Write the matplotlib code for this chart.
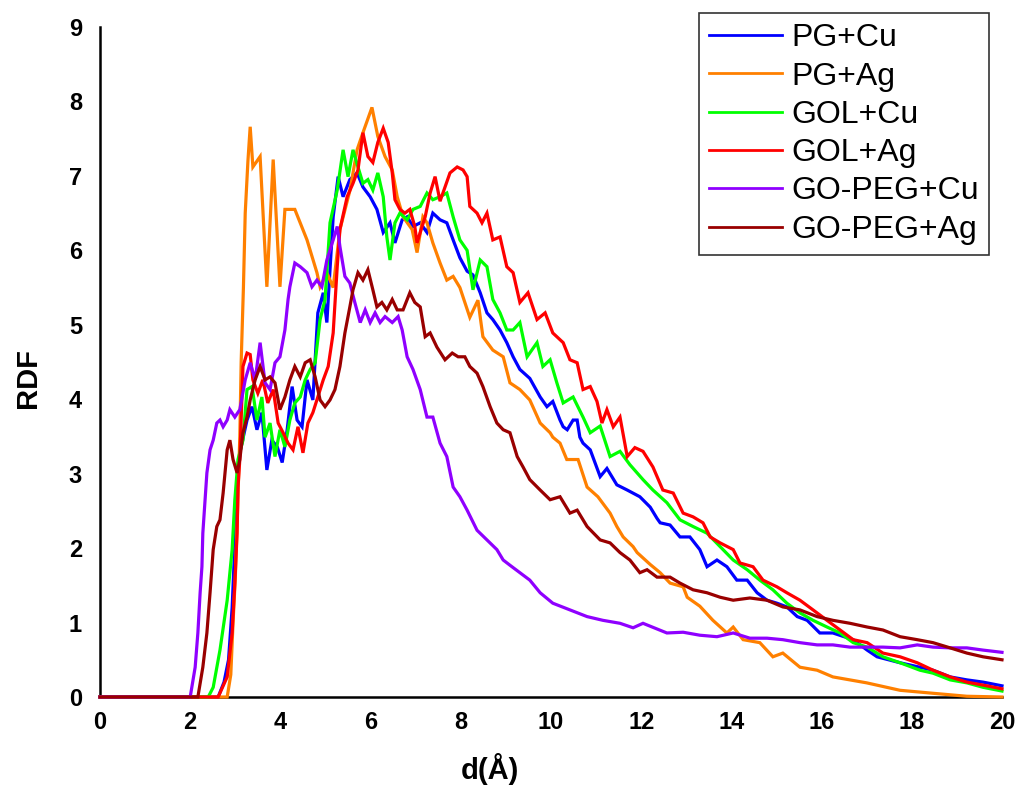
import matplotlib
matplotlib.use("Agg")
import matplotlib.pyplot as plt

plt.rcParams['font.family'] = ['Liberation Sans', 'DejaVu Sans']

labels = ["PG+Cu", "PG+Ag", "GOL+Cu", "GOL+Ag", "GO-PEG+Cu", "GO-PEG+Ag"]
colors = ["#0000FF", "#FF8000", "#00FF00", "#FF0000", "#8F00FF", "#990000"]

pg_cu_x = [0, 2.62, 2.75, 2.85, 2.93, 3.00, 3.06, 3.10, 3.26, 3.37, 3.48, 3.59, 3.70, 3.81, 3.93, 4.04,
           4.15, 4.26, 4.37, 4.48, 4.59, 4.72, 4.83, 4.95, 5.03, 5.17, 5.28, 5.39, 5.54, 5.70, 5.83, 5.99,
           6.14, 6.28, 6.43, 6.54, 6.70, 6.81, 6.94, 7.10, 7.25, 7.38, 7.54, 7.69, 7.83, 7.98, 8.14, 8.27,
           8.43, 8.58, 8.71, 8.87, 9.02, 9.16, 9.31, 9.53, 9.76, 9.91, 10.04, 10.20, 10.27, 10.36, 10.49,
           10.58, 10.64, 10.71, 10.87, 11.09, 11.24, 11.46, 11.69, 11.97, 12.20, 12.35, 12.42, 12.64, 12.86,
           13.08, 13.30, 13.46, 13.68, 13.90, 14.12, 14.35, 14.57, 14.79, 15.01, 15.23, 15.46, 15.68, 15.96,
           16.25, 16.70, 17.01, 17.23, 17.74, 18.47, 18.85, 19.22, 19.58, 20.0]
pg_cu_y = [0, 0, 0.2, 0.5, 1.2, 2.2, 3.0, 3.28, 3.72, 3.90, 3.59, 3.82, 3.05, 3.45, 3.36, 3.15,
           3.59, 4.17, 3.72, 3.63, 4.26, 3.99, 5.16, 5.43, 5.03, 6.45, 6.99, 6.72, 6.95, 7.04, 6.85, 6.72,
           6.55, 6.24, 6.37, 6.10, 6.41, 6.45, 6.32, 6.37, 6.24, 6.50, 6.41, 6.37, 6.14, 5.90, 5.72, 5.67,
           5.43, 5.16, 5.07, 4.93, 4.76, 4.57, 4.40, 4.28, 4.03, 3.90, 3.97, 3.72, 3.63, 3.59, 3.72,
           3.72, 3.49, 3.41, 3.32, 2.96, 3.07, 2.85, 2.78, 2.69, 2.55, 2.40, 2.34, 2.31, 2.15,
           2.15, 1.98, 1.75, 1.84, 1.75, 1.57, 1.57, 1.40, 1.30, 1.26, 1.21, 1.08, 1.03, 0.86,
           0.86, 0.77, 0.63, 0.54, 0.46, 0.36, 0.27, 0.23, 0.20, 0.15]

pg_ag_x = [0, 2.82, 2.90, 2.95, 3.00, 3.05, 3.10, 3.13, 3.18, 3.22, 3.28, 3.33, 3.39, 3.55, 3.70, 3.84,
           3.99, 4.10, 4.32, 4.59, 4.81, 4.88, 5.03, 5.17, 5.32, 5.54, 5.70, 5.83, 6.03, 6.16, 6.32, 6.48,
           6.59, 6.72, 6.92, 7.03, 7.16, 7.25, 7.38, 7.54, 7.69, 7.83, 7.98, 8.20, 8.38, 8.49, 8.71, 8.94,
           9.09, 9.31, 9.53, 9.76, 9.98, 10.04, 10.20, 10.35, 10.60, 10.80, 11.04, 11.31, 11.46, 11.60,
           11.82, 11.91, 12.20, 12.42, 12.64, 12.93, 13.02, 13.30, 13.59, 13.90, 14.04, 14.26, 14.63, 14.92,
           15.14, 15.52, 15.90, 16.25, 17.0, 17.74, 18.47, 19.22, 20.0]
pg_ag_y = [0, 0, 0.3, 1.0, 1.6, 2.5, 3.5, 4.5, 5.5, 6.5, 7.2, 7.66, 7.12, 7.26, 5.51, 7.22,
           5.51, 6.55, 6.55, 6.14, 5.70, 5.51, 5.70, 5.50, 6.28, 6.80, 7.35, 7.58, 7.92, 7.53, 7.26, 7.08,
           6.72, 6.45, 6.28, 5.97, 6.45, 6.37, 6.10, 5.83, 5.60, 5.65, 5.50, 5.10, 5.33, 4.84, 4.66, 4.57,
           4.22, 4.13, 3.99, 3.68, 3.55, 3.49, 3.41, 3.19, 3.19, 2.82, 2.69, 2.47, 2.29, 2.15,
           2.02, 1.94, 1.78, 1.67, 1.53, 1.48, 1.34, 1.22, 1.03, 0.86, 0.94, 0.77, 0.73, 0.54,
           0.59, 0.40, 0.36, 0.27, 0.19, 0.09, 0.05, 0.01, 0.0]

gol_cu_x = [0, 2.40, 2.51, 2.66, 2.82, 2.93, 2.99, 3.06, 3.17, 3.26, 3.37, 3.48, 3.59, 3.66, 3.77, 3.88,
            3.99, 4.10, 4.21, 4.32, 4.44, 4.55, 4.66, 4.77, 4.88, 4.99, 5.10, 5.26, 5.39, 5.50, 5.61, 5.72,
            5.83, 5.94, 6.05, 6.16, 6.28, 6.36, 6.43, 6.54, 6.65, 6.81, 6.94, 7.10, 7.25, 7.38, 7.54, 7.69,
            7.83, 7.98, 8.14, 8.27, 8.43, 8.58, 8.71, 8.87, 9.02, 9.16, 9.31, 9.47, 9.69, 9.82, 9.98, 10.13,
            10.27, 10.49, 10.71, 10.87, 11.09, 11.31, 11.53, 11.75, 12.04, 12.26, 12.57, 12.86, 13.15, 13.46,
            13.75, 14.04, 14.35, 14.63, 14.92, 15.23, 15.52, 15.81, 16.12, 16.41, 16.70, 17.01, 17.36, 17.74,
            18.18, 18.47, 18.85, 19.22, 19.58, 20.0]
gol_cu_y = [0, 0, 0.13, 0.63, 1.30, 1.98, 2.65, 3.19, 3.45, 4.13, 4.17, 3.72, 4.03, 3.49, 3.68, 3.23,
            3.59, 3.36, 3.72, 3.95, 4.03, 4.26, 4.40, 4.49, 5.07, 5.34, 6.37, 6.81, 7.35, 6.99, 7.35, 7.12,
            6.90, 6.95, 6.81, 7.04, 6.72, 6.18, 5.87, 6.37, 6.50, 6.41, 6.55, 6.59, 6.77, 6.68, 6.72, 6.77,
            6.45, 6.14, 6.00, 5.47, 5.87, 5.78, 5.34, 5.16, 4.93, 4.93, 5.03, 4.57, 4.76, 4.44, 4.53, 4.22,
            3.95, 4.03, 3.76, 3.55, 3.64, 3.23, 3.30, 3.12, 2.92, 2.78, 2.61, 2.38, 2.29, 2.20,
            2.02, 1.84, 1.71, 1.57, 1.44, 1.26, 1.13, 1.03, 0.94, 0.86, 0.73, 0.67, 0.54, 0.46,
            0.36, 0.32, 0.23, 0.19, 0.13, 0.08]

gol_ag_x = [0, 2.62, 2.82, 2.93, 2.99, 3.04, 3.06, 3.10, 3.17, 3.26, 3.33, 3.39, 3.50, 3.61, 3.72, 3.84,
            3.95, 4.06, 4.17, 4.28, 4.39, 4.50, 4.61, 4.72, 4.83, 4.95, 5.06, 5.17, 5.26, 5.32, 5.48, 5.61,
            5.72, 5.83, 5.94, 6.05, 6.16, 6.28, 6.39, 6.48, 6.54, 6.65, 6.76, 6.87, 6.98, 7.03, 7.10, 7.21,
            7.32, 7.43, 7.54, 7.65, 7.76, 7.92, 8.05, 8.14, 8.20, 8.36, 8.47, 8.58, 8.71, 8.87, 9.02, 9.16,
            9.31, 9.49, 9.69, 9.87, 10.04, 10.27, 10.42, 10.58, 10.71, 10.87, 11.02, 11.13, 11.24, 11.38,
            11.53, 11.69, 11.86, 12.04, 12.26, 12.48, 12.71, 12.93, 13.15, 13.37, 13.53, 13.75, 14.04, 14.19,
            14.48, 14.70, 15.01, 15.23, 15.52, 15.81, 16.12, 16.41, 16.70, 17.01, 17.36, 17.74, 18.12, 18.47,
            18.85, 19.22, 19.58, 20.0]
gol_ag_y = [0, 0, 0.27, 0.86, 1.53, 2.20, 2.82, 3.19, 4.44, 4.62, 4.60, 4.26, 4.08, 4.26, 3.95, 4.13,
            3.68, 3.55, 3.41, 3.32, 3.63, 3.28, 3.68, 3.82, 4.03, 4.26, 4.44, 4.89, 5.78, 6.28, 6.72, 6.90,
            7.08, 7.58, 7.26, 7.18, 7.45, 7.64, 7.45, 7.04, 6.68, 6.55, 6.50, 6.55, 6.32, 6.10, 6.24, 6.45,
            6.77, 6.99, 6.66, 6.85, 7.04, 7.12, 7.08, 6.99, 6.59, 6.50, 6.37, 6.50, 6.14, 6.18, 5.78, 5.70,
            5.30, 5.43, 5.07, 5.16, 4.89, 4.76, 4.53, 4.49, 4.13, 4.17, 3.97, 3.68, 3.86, 3.63,
            3.76, 3.23, 3.35, 3.30, 3.09, 2.78, 2.74, 2.47, 2.42, 2.34, 2.15, 2.07, 1.98, 1.80,
            1.75, 1.57, 1.48, 1.40, 1.30, 1.17, 1.03, 0.90, 0.77, 0.73, 0.59, 0.54, 0.46, 0.36,
            0.27, 0.20, 0.16, 0.11]

gopeg_cu_x = [0, 2.00, 2.11, 2.17, 2.22, 2.26, 2.28, 2.33, 2.37, 2.44, 2.51, 2.59, 2.66, 2.73, 2.82, 2.88,
              2.99, 3.10, 3.22, 3.33, 3.44, 3.55, 3.66, 3.77, 3.88, 3.99, 4.10, 4.17, 4.21, 4.32, 4.44, 4.59,
              4.70, 4.81, 4.92, 5.03, 5.17, 5.26, 5.32, 5.43, 5.54, 5.65, 5.77, 5.88, 5.99, 6.10, 6.21, 6.32,
              6.48, 6.61, 6.70, 6.81, 6.94, 7.10, 7.25, 7.38, 7.54, 7.69, 7.83, 7.98, 8.14, 8.36, 8.58, 8.80,
              8.94, 9.09, 9.53, 9.76, 10.04, 10.42, 10.80, 11.15, 11.53, 11.82, 12.04, 12.57, 12.93, 13.30,
              13.68, 14.04, 14.41, 14.79, 15.14, 15.52, 15.90, 16.25, 16.63, 17.01, 17.36, 17.74, 18.12, 18.47,
              18.85, 19.22, 19.58, 20.0]
gopeg_cu_y = [0, 0, 0.40, 0.86, 1.40, 1.75, 2.20, 2.65, 3.01, 3.32, 3.45, 3.68, 3.72, 3.63, 3.72, 3.86,
              3.76, 3.86, 4.26, 4.49, 4.26, 4.76, 4.22, 4.13, 4.49, 4.57, 4.93, 5.34, 5.51, 5.83, 5.78, 5.70,
              5.51, 5.60, 5.51, 5.87, 6.14, 6.32, 6.05, 5.65, 5.56, 5.30, 5.03, 5.20, 5.03, 5.16, 5.03, 5.11,
              5.03, 5.11, 4.93, 4.57, 4.40, 4.13, 3.76, 3.76, 3.41, 3.23, 2.82, 2.69, 2.51, 2.24, 2.11, 1.98,
              1.84, 1.77, 1.57, 1.40, 1.26, 1.17, 1.08, 1.03, 0.99, 0.93, 0.99, 0.86, 0.87, 0.83,
              0.81, 0.86, 0.79, 0.79, 0.77, 0.73, 0.70, 0.70, 0.67, 0.67, 0.67, 0.66, 0.70, 0.67,
              0.66, 0.66, 0.63, 0.60]

gopeg_ag_x = [0, 2.17, 2.28, 2.37, 2.44, 2.51, 2.59, 2.66, 2.73, 2.82, 2.88, 2.95, 3.04, 3.10, 3.17, 3.26,
              3.33, 3.44, 3.55, 3.66, 3.77, 3.88, 3.99, 4.10, 4.21, 4.32, 4.44, 4.55, 4.66, 4.77, 4.88, 4.99,
              5.10, 5.21, 5.32, 5.43, 5.54, 5.61, 5.72, 5.83, 5.94, 6.05, 6.14, 6.25, 6.36, 6.48, 6.59, 6.72,
              6.87, 6.98, 7.10, 7.21, 7.32, 7.47, 7.65, 7.81, 7.94, 8.09, 8.20, 8.36, 8.49, 8.65, 8.80, 8.94,
              9.09, 9.25, 9.38, 9.53, 9.76, 9.98, 10.20, 10.42, 10.58, 10.80, 11.09, 11.31, 11.53, 11.75,
              11.97, 12.13, 12.35, 12.64, 12.86, 13.15, 13.46, 13.75, 14.04, 14.41, 14.79, 15.14, 15.52, 15.90,
              16.25, 16.63, 17.01, 17.36, 17.74, 18.12, 18.47, 18.85, 19.22, 19.58, 20.0]
gopeg_ag_y = [0, 0, 0.40, 0.86, 1.40, 1.98, 2.29, 2.38, 2.74, 3.32, 3.45, 3.19, 3.01, 3.19, 3.55, 3.76,
              3.99, 4.26, 4.44, 4.26, 4.30, 4.22, 3.86, 4.03, 4.26, 4.44, 4.30, 4.49, 4.53, 4.30, 3.99, 3.90,
              3.99, 4.13, 4.44, 4.89, 5.24, 5.47, 5.70, 5.60, 5.74, 5.47, 5.24, 5.30, 5.20, 5.34, 5.20, 5.20,
              5.43, 5.30, 5.24, 4.84, 4.89, 4.70, 4.53, 4.62, 4.57, 4.57, 4.44, 4.35, 4.17, 3.90, 3.68, 3.59,
              3.55, 3.23, 3.09, 2.92, 2.78, 2.65, 2.69, 2.47, 2.51, 2.29, 2.11, 2.07, 1.94, 1.84,
              1.67, 1.71, 1.61, 1.61, 1.53, 1.44, 1.40, 1.34, 1.30, 1.33, 1.30, 1.21, 1.17, 1.08,
              1.03, 0.99, 0.94, 0.90, 0.81, 0.77, 0.73, 0.66, 0.59, 0.54, 0.50]

series_x = [pg_cu_x, pg_ag_x, gol_cu_x, gol_ag_x, gopeg_cu_x, gopeg_ag_x]
series_y = [pg_cu_y, pg_ag_y, gol_cu_y, gol_ag_y, gopeg_cu_y, gopeg_ag_y]

xticks = [0, 2, 4, 6, 8, 10, 12, 14, 16, 18, 20]
yticks = [0, 1, 2, 3, 4, 5, 6, 7, 8, 9]

fig = plt.figure(figsize=(10.29, 7.85), dpi=100)
ax = fig.add_axes([100 / 1029, 1 - 697 / 785, 902 / 1029, 670 / 785])

for xs, ys, c, lab in zip(series_x, series_y, colors, labels):
    ax.plot(xs, ys, color=c, lw=2.3, label=lab, zorder=3, clip_on=False,
            solid_joinstyle='miter')

ax.set_xlim(0, 20)
ax.set_ylim(0, 9)
ax.set_xticks(xticks)
ax.set_yticks(yticks)
ax.tick_params(axis='both', length=0, labelsize=17)
ax.tick_params(axis='y', pad=13)
ax.tick_params(axis='x', pad=10)
for t in ax.get_xticklabels() + ax.get_yticklabels():
    t.set_fontweight('bold')

for s in ['top', 'right']:
    ax.spines[s].set_visible(False)
for s in ['left', 'bottom']:
    ax.spines[s].set_linewidth(1.8)
    ax.spines[s].set_color('black')

ax.set_xlabel('d(Å)', fontsize=21, fontweight='bold')
ax.set_ylabel('RDF', fontsize=21, fontweight='bold')
ax.xaxis.set_label_coords(0.432, -0.084)
ax.yaxis.set_label_coords(-0.064, 0.476)

leg = ax.legend(loc='upper right', bbox_to_anchor=(989 / 1029, 1 - 13 / 785),
                bbox_transform=fig.transFigure, borderaxespad=0, fontsize=23,
                handlelength=2.3, handletextpad=0.28, labelspacing=0.26,
                borderpad=0.32, frameon=True, fancybox=False)
leg.get_frame().set_edgecolor('black')
leg.get_frame().set_linewidth(1.2)
for line in leg.get_lines():
    line.set_linewidth(2.0)

fig.savefig('out.png', dpi=100)
